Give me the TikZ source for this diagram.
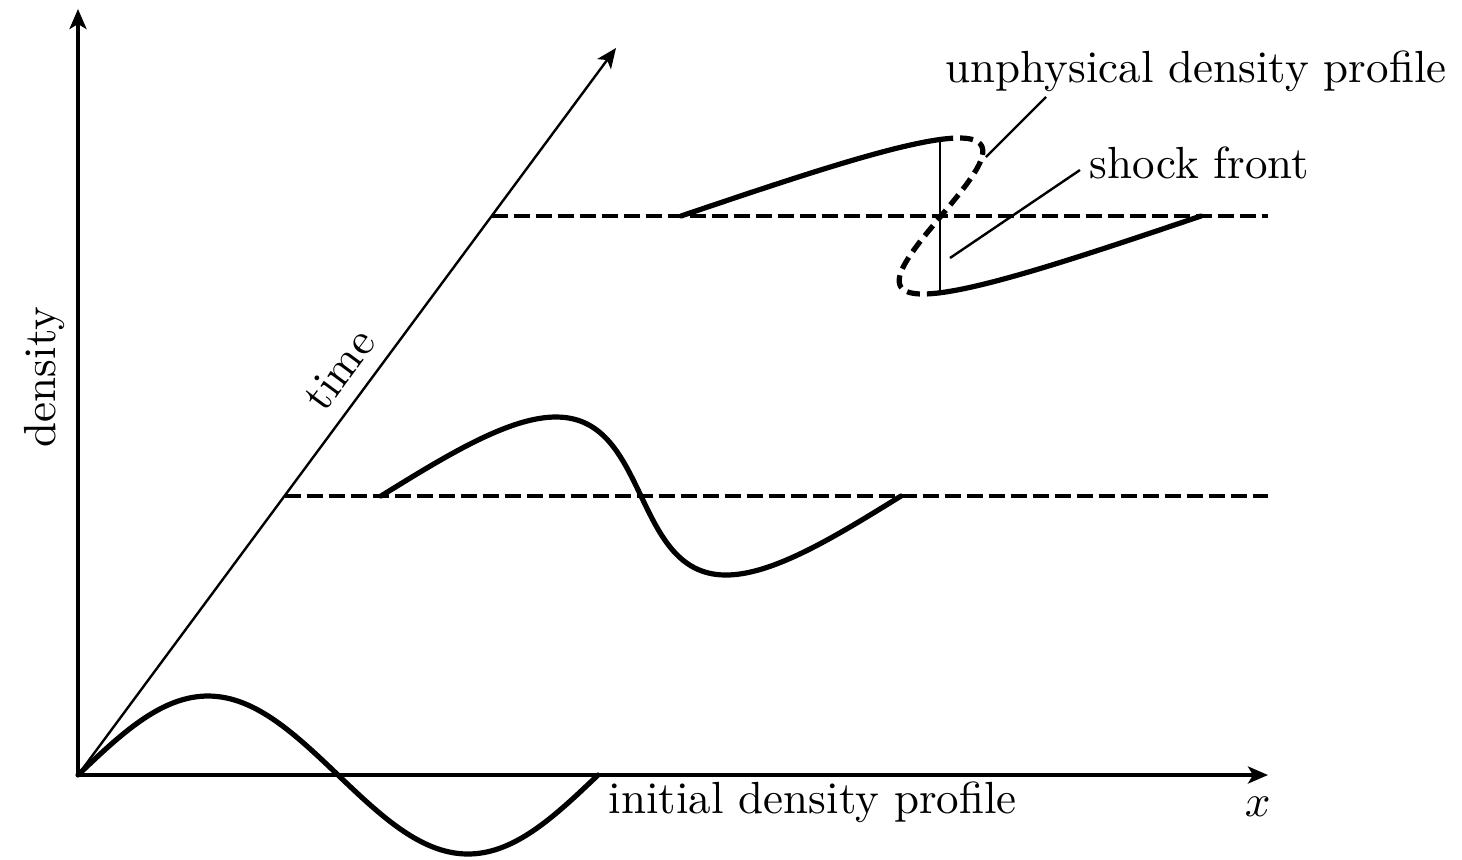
\documentclass[tikz,border=0pt]{standalone}
\usetikzlibrary{arrows.meta}
\begin{document}
\begin{tikzpicture}[x=0.5pt,y=-0.5pt,
  tip/.style={-{Stealth[length=10pt,width=8.5pt,inset=2.5pt]}},
  axis/.style={line width=1.8pt,tip},
  timeax/.style={line width=1.2pt,tip},
  prof/.style={line width=2.6pt,line cap=round,line join=round},
  unphys/.style={line width=2.6pt,dash pattern=on 6.5pt off 3.5pt},
  baseline/.style={line width=1.7pt,dash pattern=on 8pt off 3pt},
  thinline/.style={line width=1.2pt},
  lbl/.style={inner sep=0pt,scale=2.25,transform shape}]
\useasboundingbox (0,0) rectangle (1462,859);
% coordinates
\coordinate (O) at (78,775);
\coordinate (Ytop) at (78,9);
\coordinate (Xend) at (1268,775);
\coordinate (T) at (616,48);
\coordinate (B1) at (284.7,496);
\coordinate (B1e) at (1268,496);
\coordinate (B2) at (491.6,216);
\coordinate (B2e) at (1268,216);
\coordinate (Stop) at (940,139.4);
\coordinate (Sbot) at (940,292.6);
\coordinate (U1) at (986,157);
\coordinate (U2) at (1046,97);
\coordinate (F1) at (950,258);
\coordinate (F2) at (1080,170);
% dashed baselines
\draw[baseline] (B1) -- (B1e);
\draw[baseline] (B2) -- (B2e);
% axes
\draw[axis] (O) -- (Ytop);
\draw[axis] (O) -- (Xend);
\draw[timeax] (O) -- (T);
% initial profile
\draw[prof] plot[domain=0:360,samples=120,smooth,variable=\t]
  ({78+\t*1.444444},{775-79*sin(\t)});
% profile at t1
\draw[prof] plot[domain=0:360,samples=120,smooth,variable=\t]
  ({381+\t*1.444444+45*sin(\t)},{496-79*sin(\t)});
% profile at t2
\draw[prof] plot[domain=0:78.9,samples=50,smooth,variable=\t]
  ({681+\t*1.444444+148*sin(\t)},{216-78*sin(\t)});
\draw[unphys] plot[domain=78.9:280.1,samples=120,smooth,variable=\t]
  ({681+\t*1.444444+148*sin(\t)},{216-78*sin(\t)});
\draw[prof] plot[domain=280.1:360,samples=50,smooth,variable=\t]
  ({681+\t*1.444444+148*sin(\t)},{216-78*sin(\t)});
% shock
\draw[thinline] (Stop) -- (Sbot);
% leaders
\draw[thinline] (U1) -- (U2);
\draw[thinline] (F1) -- (F2);
% labels
\node[lbl,anchor=base west] (lu) at (945,82) {unphysical density profile};
\node[lbl,anchor=base west] (ls) at (1089,178) {shock front};
\node[lbl,anchor=base west] (li) at (608,813) {initial density profile};
\node[lbl,anchor=base west] (lx) at (1244,816) {$x$};
\node[lbl,anchor=base,rotate=90] (ld) at (55,377) {density};
\node[lbl,anchor=base,rotate=53.5] (lt) at (351,378) {time};
\end{tikzpicture}
\end{document}
